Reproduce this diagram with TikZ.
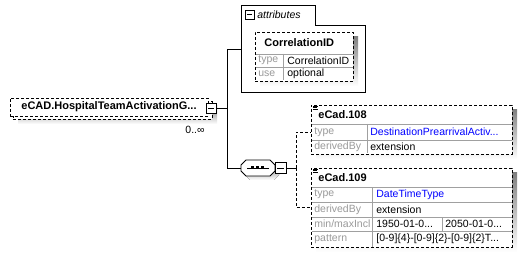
\documentclass[tikz,border=0pt]{standalone}
\usepackage{fontspec}
\setmainfont{Liberation Sans}
\usetikzlibrary{positioning}
\definecolor{shade}{HTML}{C0C0C0}
\definecolor{keygrey}{HTML}{9A9A9A}
\definecolor{rulegrey}{HTML}{A0A0A0}
\definecolor{typeblue}{HTML}{0000FF}

\begin{document}
\begin{tikzpicture}[x=1pt,y=-1pt,line width=0.8pt,
    font=\fontsize{10.5}{12}\selectfont,
    box/.style={draw,dash pattern=on 3pt off 2pt,fill=white,inner sep=0pt},
    link/.style={dash pattern=on 3pt off 2pt},
    minus/.style={draw,fill=white,minimum size=10pt,inner sep=0pt,
        path picture={\draw ([xshift=2pt]path picture bounding box.west) -- ([xshift=-2pt]path picture bounding box.east);}},
    head/.style={anchor=west,inner sep=0pt,font=\fontsize{11}{13}\selectfont\bfseries},
    key/.style={anchor=west,inner sep=0pt,text=keygrey},
    val/.style={anchor=west,inner sep=0pt},
    ref/.style={val,text=typeblue},
    rule/.style={draw=rulegrey,line width=0.7pt},
    doc/.style={line width=0.5pt}]
    \useasboundingbox (0,0) rectangle (526,256);

    \fill[shade] (18,106) rectangle (217,124);
    \node[box,minimum width=199pt,minimum height=18pt] (mainback) at (112.5,110) {};
    \node[box,minimum width=198pt,minimum height=18pt,font=\fontsize{11}{13}\selectfont\bfseries] (main) at (109,107) {eCAD.HospitalTeamActivationG...};
    \node[minus] (mainm) at (211,108) {};
    \node[anchor=east,inner sep=0pt] (occurs) at (205,130) {0..∞};

    \draw (mainm.east) -- ++(11,0) coordinate (trunk);

    % attributes
    \draw[fill=white] (241,92) |- (315,5) |- (365,25) |- cycle;
    \coordinate (attrin) at (241,49);
    \node[minus,minimum size=9pt] (attrm) at (249.5,14.5) {};
    \node[anchor=west,inner sep=0pt,font=\fontsize{10.5}{12}\selectfont\itshape] (attrlbl) at (257,14.5) {attributes};
    \fill[shade] (260,37) rectangle (358,86);
    \node[box,minimum width=98pt,minimum height=49pt] (corr) at (304,56.5) {};
    \draw[rule] (255.5,54) -- (352.5,54) (255.5,67) -- (352.5,67) (283,54) -- (283,80.5);
    \node[head] (corrhead) at (264,43) {CorrelationID};
    \node[key] (corrtypek) at (258,60.5) {type};
    \node[val] (corrtypev) at (287,60.5) {CorrelationID};
    \node[key] (corrusek) at (258,74) {use};
    \node[val] (corrusev) at (287,74) {optional};
    \draw (trunk) |- (attrin);

    % sequence
    \fill[shade] (245,169) -- (250,164) -- (274,164) -- (279,169) -- (279,175) -- (274,180) -- (250,180) -- (245,175) -- cycle;
    \draw[fill=white] (241,165) -- (246,160) -- (270,160) -- (275,165) -- (275,171) -- (270,176) -- (246,176) -- (241,171) -- cycle;
    \node[minimum width=34pt,minimum height=16pt,inner sep=0pt] (seq) at (258,168) {};
    \draw (247,168) -- (269,168);
    \foreach \dx in {251,256,261}
        \fill (\dx,166.5) rectangle ++(3,3);
    \node[minus,minimum size=11pt] (seqm) at (280.5,168) {};
    \draw (trunk) |- (seq.west);
    \draw (seqm.east) -- ++(10,0) coordinate (fork);

    % eCad.108
    \fill[shade] (316,110) rectangle (517,159);
    \node[box,minimum width=201pt,minimum height=49pt] (e108) at (411.5,129.5) {};
    \draw[rule] (311.5,124) -- (511.5,124) (311.5,140) -- (511.5,140) (367,124) -- (367,153.5);
    \draw[doc] (313,106) -- (318,106) (313,107.6) -- (316.5,107.6) (313,109.2) -- (318,109.2);
    \node[head] (e108head) at (318,115) {eCad.108};
    \node[key] (e108typek) at (314,132) {type};
    \node[ref] (e108typev) at (370,132) {DestinationPrearrivalActiv...};
    \node[key] (e108derk) at (314,147) {derivedBy};
    \node[val] (e108derv) at (370,147) {extension};
    \draw[link] (fork) |- ([yshift=-2.5pt]e108.west);

    % eCad.109
    \fill[shade] (316,173) rectangle (517,252);
    \node[box,minimum width=201pt,minimum height=79pt] (e109) at (411.5,207.5) {};
    \draw[rule] (311.5,187) -- (511.5,187) (311.5,202) -- (511.5,202) (311.5,217) -- (511.5,217) (311.5,231) -- (511.5,231)
        (372,187) -- (372,246.5) (442,217) -- (442,231);
    \draw[doc] (313,169) -- (318,169) (313,170.6) -- (316.5,170.6) (313,172.2) -- (318,172.2);
    \node[head] (e109head) at (318,178) {eCad.109};
    \node[key] (e109typek) at (314,194.5) {type};
    \node[ref] (e109typev) at (376,194.5) {DateTimeType};
    \node[key] (e109derk) at (314,209.5) {derivedBy};
    \node[val] (e109derv) at (376,209.5) {extension};
    \node[key] (e109mink) at (314,224) {min/maxIncl};
    \node[val] (e109minv) at (376,224) {1950-01-0...};
    \node[val] (e109maxv) at (445,224) {2050-01-0...};
    \node[key] (e109patk) at (314,239) {pattern};
    \node[val] (e109patv) at (376,239) {[0-9]\{4\}-[0-9]\{2\}-[0-9]\{2\}T...};
    \draw[link] (fork) |- (e109.west);
\end{tikzpicture}
\end{document}
